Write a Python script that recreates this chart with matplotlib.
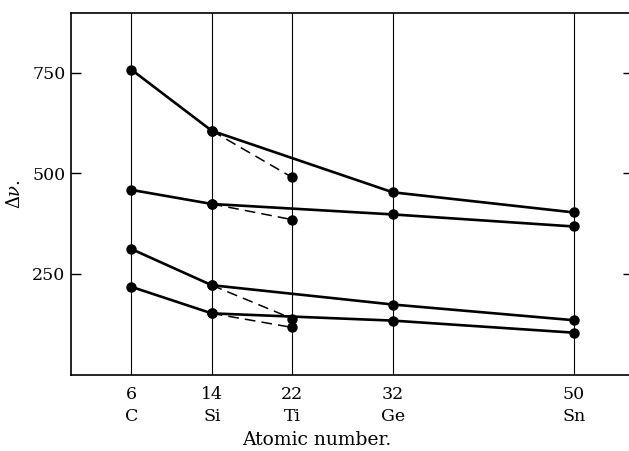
import matplotlib
matplotlib.use('Agg')
import matplotlib.pyplot as plt

plt.rcParams['font.family'] = ['DejaVu Serif']
plt.rcParams['mathtext.fontset'] = 'dejavuserif'

# atomic numbers and element symbols
atomic_no = [6, 14, 32, 50]
ticks = [6, 14, 22, 32, 50]
symbols = ['C', 'Si', 'Ti', 'Ge', 'Sn']

# solid series (C, Si, Ge, Sn)
s1 = [758, 606, 453, 403]
s2 = [459, 424, 398, 368]
s3 = [312, 222, 174, 135]
s4 = [218, 152, 134, 104]

# dashed branches Si -> Ti
ti_x = [14, 22]
d1 = [606, 490]
d2 = [424, 385]
d3 = [222, 139]
d4 = [152, 117]

fig = plt.figure(figsize=(6.29, 4.51), dpi=100)
ax = fig.add_axes([71/629, 1 - 374.5/451, 1 - 71/629, (374.5 - 12.5)/451])

for xv in ticks:
    ax.axvline(xv, color='black', lw=0.8, zorder=1)

for s in [s1, s2, s3, s4]:
    ax.plot(atomic_no, s, color='black', lw=1.9, marker='o', ms=6.5, zorder=3)
for d in [d1, d2, d3, d4]:
    ax.plot(ti_x, d, color='black', lw=1.1, ls=(0, (7, 4)), marker='o', ms=6.5, zorder=3)

ax.set_xlim(0, 55.5)
ax.set_ylim(0, 900)
ax.spines['right'].set_visible(False)
for sp in ['left', 'top', 'bottom']:
    ax.spines[sp].set_linewidth(1.2)

ax.set_yticks([250, 500, 750])
ax.tick_params(axis='y', direction='in', length=7.5, width=1.0, labelsize=12.5,
               right=True, pad=4)
ax.set_xticks(ticks)
ax.set_xticklabels([f'{t}\n{s}' for t, s in zip(ticks, symbols)])
ax.tick_params(axis='x', length=0, labelsize=12.5, pad=8)
for lbl in ax.get_xticklabels():
    lbl.set_linespacing(1.4)

ax.set_xlabel('Atomic number.', fontsize=13.5, va='baseline')
ax.xaxis.set_label_coords((317 - 71) / 558, -(445 - 374.5) / 362)
ax.set_ylabel(r'$\Delta\nu$.', fontsize=13)
ax.yaxis.set_label_coords(-0.085, 0.5)

# shorter ticks on the right side
for t in ax.yaxis.get_major_ticks():
    t.tick2line.set_markersize(4.5)

fig.savefig('out.png', dpi=100)
